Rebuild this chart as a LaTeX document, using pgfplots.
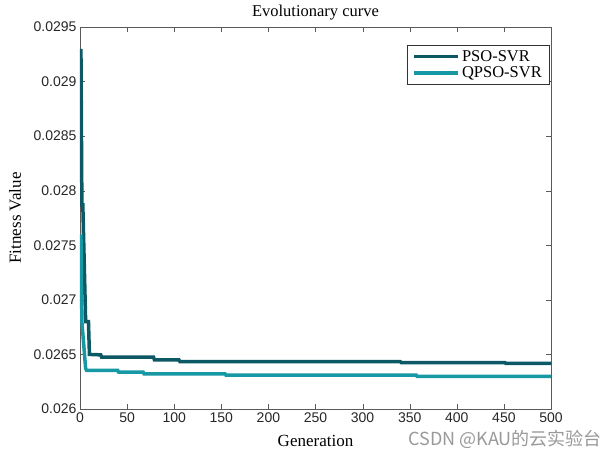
\documentclass[border=0pt]{standalone}
\usepackage{pgfplots}
\pgfplotsset{compat=1.18}
\usepackage{fontspec}
\setmainfont{Liberation Serif}
\newfontfamily\ticksans{Liberation Sans}
\newfontfamily\cjk{Noto Sans CJK SC}
\definecolor{psoc}{RGB}{12,88,100}
\definecolor{qpsoc}{RGB}{22,152,165}
\definecolor{axc}{RGB}{90,90,90}
\begin{document}
\begin{tikzpicture}
\useasboundingbox (-80bp,-48bp) rectangle (530bp,409bp);
\begin{axis}[
  width=471bp, height=382bp, scale only axis,
  xmin=0, xmax=500, ymin=0.026, ymax=0.0295,
  xtick={0,50,100,150,200,250,300,350,400,450,500},
  ytick={0.026,0.0265,0.027,0.0275,0.028,0.0285,0.029,0.0295},
  scaled y ticks=false,
  yticklabel style={/pgf/number format/fixed, /pgf/number format/precision=4},
  /pgf/number format/assume math mode=true,
  tick label style={font=\ticksans\fontsize{14bp}{16bp}\selectfont, text=black!85},
  tick align=inside, major tick length=5bp,
  axis line style={axc}, tick style={axc},
  title={Evolutionary curve},
  title style={font=\fontsize{16.5bp}{18bp}\selectfont, at={(axis description cs:0.5,1)}, anchor=base, inner sep=0pt, yshift=5bp},
  xlabel={Generation},
  xlabel style={font=\fontsize{17bp}{18bp}\selectfont, at={(axis description cs:0.5,0)}, anchor=base, inner sep=0pt, yshift=-37bp},
  ylabel={Fitness Value},
  ylabel style={font=\fontsize{17bp}{18bp}\selectfont, at={(axis description cs:-0.1253,0.5)}, anchor=base, inner sep=0pt},
  legend style={at={(axis description cs:0.9958,0.9529)}, anchor=north east, draw=black!80, font=\fontsize{16.5bp}{18bp}\selectfont, row sep=0bp, inner xsep=5bp, inner ysep=3bp},
  legend cell align=left,
  legend image code/.code={\draw[#1] (0bp,0bp) -- (44bp,0bp);},
]
\addplot[psoc, line width=3.5bp] coordinates {
(1,0.0293) (2,0.02787) (3,0.02787) (6,0.0268) (9,0.0268) (10,0.0265)
(22,0.026496) (23,0.026475) (78,0.026475) (79,0.02645) (105,0.02645)
(106,0.026435) (340,0.026435) (341,0.026426) (451,0.026426) (452,0.026418) (500,0.026418)};
\addlegendentry{PSO-SVR}
\addplot[qpsoc, line width=3.5bp] coordinates {
(1,0.0276) (2,0.0268) (6,0.02637) (7,0.026353) (40,0.026353) (41,0.026338)
(67,0.026338) (68,0.026322) (154,0.026322) (155,0.02631) (357,0.02631)
(358,0.026298) (500,0.026298)};
\addlegendentry{QPSO-SVR}
\end{axis}
\node[anchor=base east, inner sep=0pt, text=black!40, font=\cjk\fontsize{18bp}{20bp}\selectfont] at (522bp,-36bp) {CSDN @KAU的云实验台};
\end{tikzpicture}
\end{document}
